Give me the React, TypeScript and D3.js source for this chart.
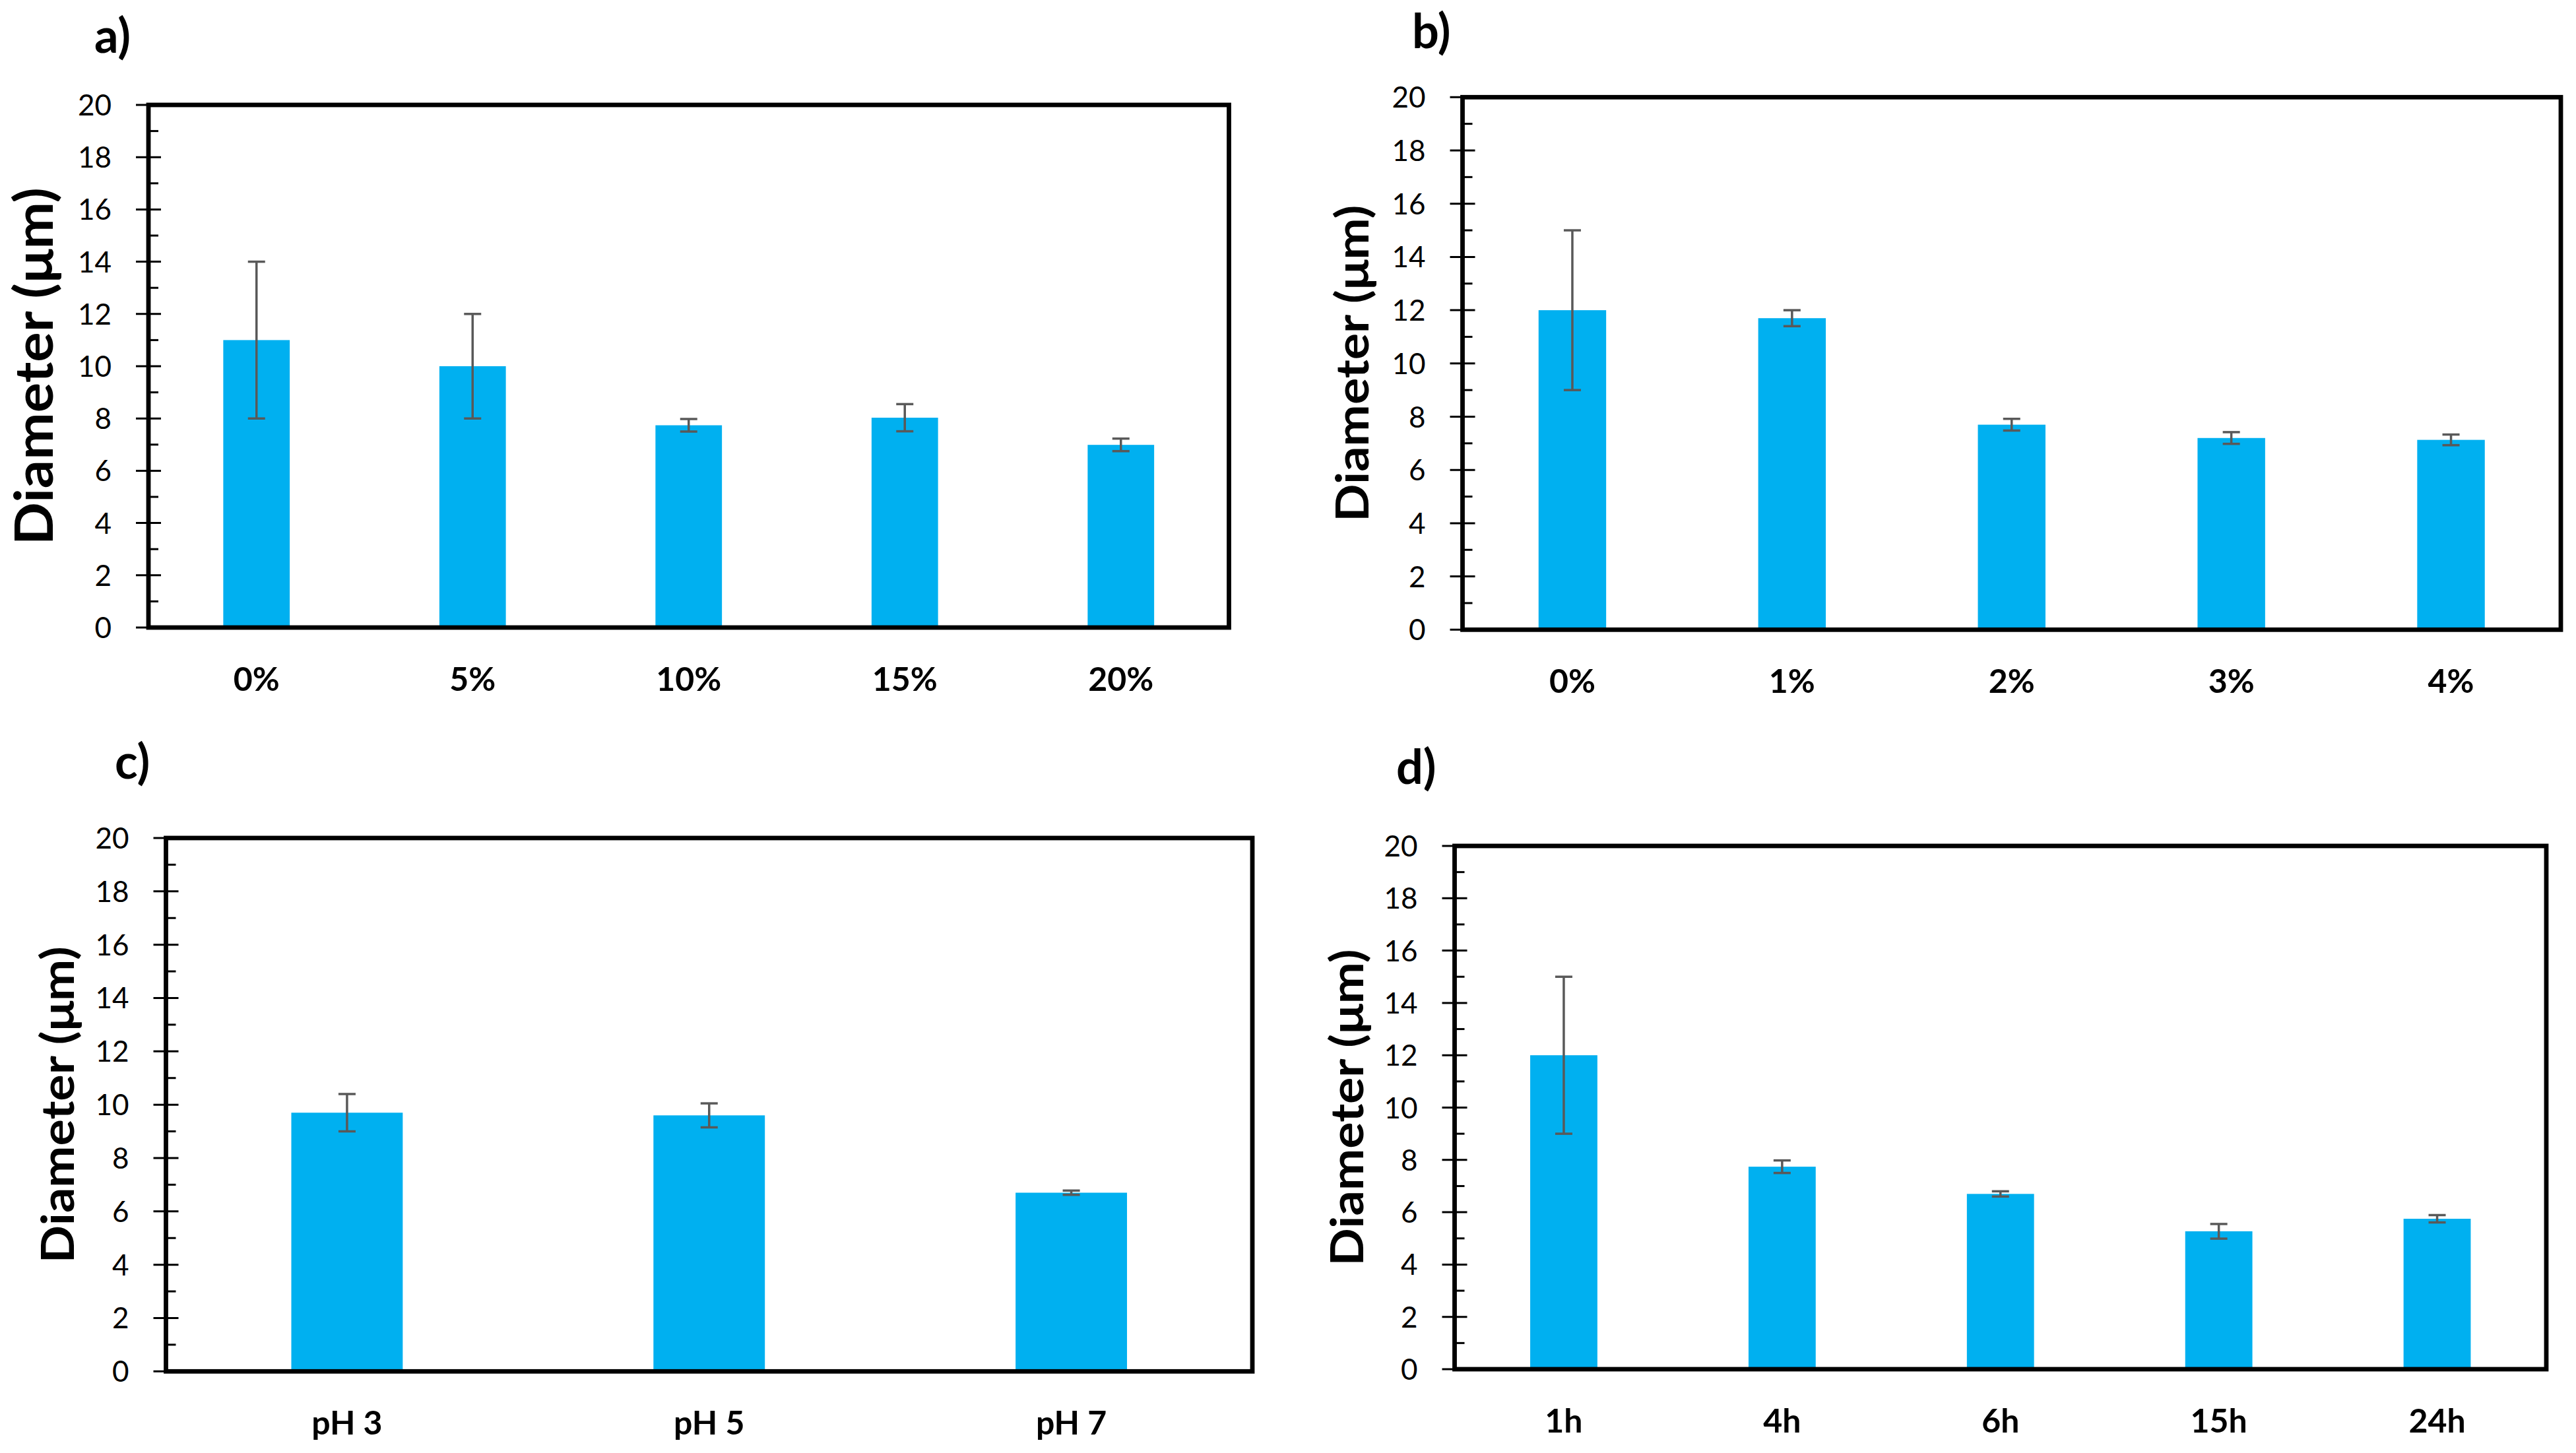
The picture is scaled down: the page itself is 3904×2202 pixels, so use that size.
import React from 'react';
import * as d3 from 'd3';

// ---------- data ----------
const aCategories = ['0%', '5%', '10%', '15%', '20%'];
const aValues = [11.0, 10.0, 7.74, 8.03, 6.99];
const aErrors = [3.0, 2.0, 0.24, 0.52, 0.24];

const bCategories = ['0%', '1%', '2%', '3%', '4%'];
const bValues = [12.0, 11.7, 7.7, 7.2, 7.13];
const bErrors = [3.0, 0.3, 0.22, 0.22, 0.2];

const cCategories = ['pH 3', 'pH 5', 'pH 7'];
const cValues = [9.7, 9.6, 6.7];
const cErrors = [0.7, 0.45, 0.08];

const dCategories = ['1h', '4h', '6h', '15h', '24h'];
const dValues = [12.0, 7.74, 6.7, 5.27, 5.75];
const dErrors = [3.0, 0.24, 0.1, 0.28, 0.14];

const majorTicks = [0, 2, 4, 6, 8, 10, 12, 14, 16, 18, 20];
const minorTicks = [1, 3, 5, 7, 9, 11, 13, 15, 17, 19];
const yTitle = 'Diameter (μm)';

// ---------- layout ----------
const panels = [
  { tag: 'a)', cats: aCategories, vals: aValues, errs: aErrors, left: 225, right: 1862.5, y0: 951, y20: 159, tagX: 143, tagY: 80, labelX: 79.5, labelSize: 80, labelLen: 542 },
  { tag: 'b)', cats: bCategories, vals: bValues, errs: bErrors, left: 2216.5, right: 3881, y0: 954.3, y20: 147.3, tagX: 2140, tagY: 73, labelX: 2074, labelSize: 68, labelLen: 480 },
  { tag: 'c)', cats: cCategories, vals: cValues, errs: cErrors, left: 251.5, right: 1898, y0: 2078.3, y20: 1270, tagX: 174, tagY: 1180, labelX: 111.6, labelSize: 68, labelLen: 480 },
  { tag: 'd)', cats: dCategories, vals: dValues, errs: dErrors, left: 2204.5, right: 3859, y0: 2075, y20: 1282, tagX: 2116, tagY: 1188, labelX: 2066, labelSize: 68, labelLen: 480 },
];

const FONT = "Lato, 'Open Sans', 'Liberation Sans', sans-serif";
const BAR = '#00B0F0';
const ERR = '#595959';

function Panel({ p }: { p: any }) {
  const pad = 1 - 1 / 3.25;
  const x = d3.scaleBand<string>().domain(p.cats).range([p.left, p.right]).paddingInner(pad).paddingOuter(pad / 2);
  const y = d3.scaleLinear().domain([0, 20]).range([p.y0, p.y20]);
  const bw = x.bandwidth();
  const cy = (p.y0 + p.y20) / 2;
  return (
    <g>
      <text x={p.tagX} y={p.tagY} fontFamily={FONT} fontWeight={700} fontSize={72} fill="#000">{p.tag}</text>
      <text
        transform={`translate(${p.labelX},${cy}) rotate(-90)`}
        textAnchor="middle"
        fontFamily={FONT}
        fontWeight={700}
        fontSize={p.labelSize}
        textLength={p.labelLen}
        lengthAdjust="spacingAndGlyphs"
        fill="#000"
      >{yTitle}</text>
      {p.cats.map((c: string, i: number) => (
        <rect key={'b' + i} x={x(c)} y={y(p.vals[i])} width={bw} height={y(0) - y(p.vals[i])} fill={BAR} />
      ))}
      {p.cats.map((c: string, i: number) => {
        const cx = (x(c) as number) + bw / 2;
        const top = y(p.vals[i] + p.errs[i]);
        const bot = y(p.vals[i] - p.errs[i]);
        return (
          <g key={'e' + i} stroke={ERR} strokeWidth={3.5}>
            <line x1={cx} x2={cx} y1={top} y2={bot} />
            <line x1={cx - 13} x2={cx + 13} y1={top} y2={top} />
            <line x1={cx - 13} x2={cx + 13} y1={bot} y2={bot} />
          </g>
        );
      })}
      {majorTicks.map((t) => (
        <g key={'M' + t}>
          <line x1={p.left - 19} x2={p.left + 19} y1={y(t)} y2={y(t)} stroke="#000" strokeWidth={3} />
          <text x={p.left - 56} y={y(t) + 16} textAnchor="end" fontFamily={FONT} fontSize={44} fill="#000">{t}</text>
        </g>
      ))}
      {minorTicks.map((t) => (
        <line key={'m' + t} x1={p.left} x2={p.left + 15} y1={y(t)} y2={y(t)} stroke="#000" strokeWidth={3} />
      ))}
      <rect x={p.left} y={p.y20} width={p.right - p.left} height={p.y0 - p.y20} fill="none" stroke="#000" strokeWidth={6.8} />
      {p.cats.map((c: string, i: number) => (
        <text key={'c' + i} x={(x(c) as number) + bw / 2} y={p.y0 + 96} textAnchor="middle" fontFamily={FONT} fontWeight={700} fontSize={50} fill="#000">{c}</text>
      ))}
    </g>
  );
}

export default function App() {
  return (
    <svg
      width={3904}
      height={2202}
      viewBox="0 0 3904 2202"
      style={{ position: 'absolute', left: 0, top: 0, display: 'block', background: '#fff' }}
    >
      <rect x={0} y={0} width={3904} height={2202} fill="#fff" />
      {panels.map((p, i) => <Panel key={i} p={p} />)}
    </svg>
  );
}
